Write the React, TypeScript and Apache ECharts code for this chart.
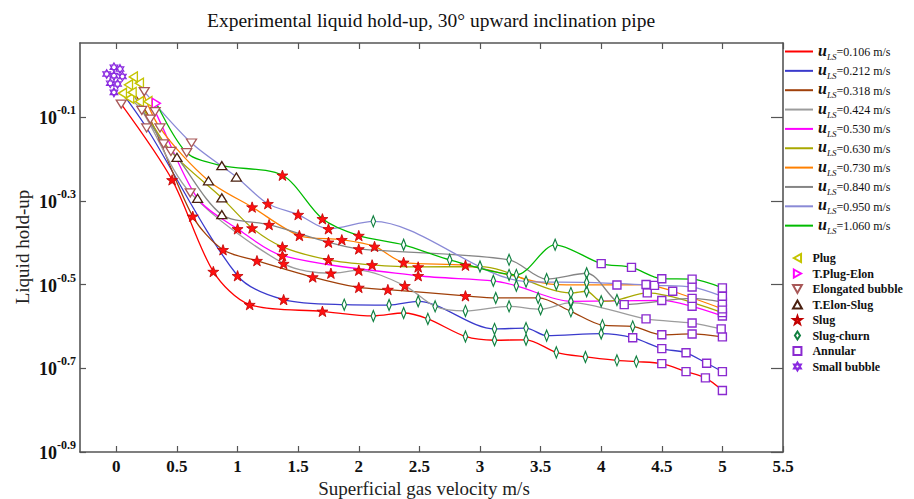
import React, { useEffect, useRef } from "react";
import * as echarts from "echarts";

const SERIF = '"Liberation Serif", "DejaVu Serif", serif';

// Superficial liquid velocities (m/s), one curve each
const liquidVelocity = ["0.106", "0.212", "0.318", "0.424", "0.530", "0.630", "0.730", "0.840", "0.950", "1.060"];

// Per curve: superficial gas velocity (m/s), log10 of liquid hold-up, observed flow regime
const ugs106 = [-0.02, 0.04, 0.46, 0.80, 1.10, 1.70, 2.12, 2.37, 2.57, 2.88, 3.12, 3.38, 3.63, 3.87, 4.13, 4.29, 4.50, 4.70, 4.86, 5.00];
const logHl106 = [-0.041, -0.069, -0.250, -0.469, -0.548, -0.564, -0.575, -0.568, -0.582, -0.624, -0.633, -0.632, -0.662, -0.673, -0.681, -0.684, -0.689, -0.708, -0.723, -0.753];
const regime106 = ["SB", "EB", "S", "S", "S", "S", "SC", "SC", "SC", "SC", "SC", "SC", "SC", "SC", "SC", "SC", "A", "A", "A", "A"];

const ugs212 = [-0.05, 0.05, 0.25, 1.00, 1.38, 1.88, 2.25, 2.49, 3.12, 3.38, 3.55, 4.00, 4.26, 4.50, 4.70, 4.87, 5.00];
const logHl212 = [-0.019, -0.043, -0.126, -0.479, -0.536, -0.548, -0.549, -0.540, -0.606, -0.604, -0.622, -0.617, -0.627, -0.653, -0.663, -0.688, -0.708];
const regime212 = ["SB", "P", "EB", "S", "S", "SC", "SC", "SC", "SC", "SC", "SC", "SC", "A", "A", "A", "A", "A"];

const ugs318 = [-0.08, 0.10, 0.28, 0.63, 0.88, 1.16, 1.62, 2.00, 2.24, 2.88, 3.13, 3.48, 3.75, 4.01, 4.26, 4.50, 4.75, 5.00];
const logHl318 = [0.003, -0.023, -0.105, -0.337, -0.417, -0.443, -0.482, -0.507, -0.512, -0.527, -0.532, -0.532, -0.564, -0.597, -0.600, -0.620, -0.618, -0.625];
const regime318 = ["SB", "P", "EB", "S", "S", "S", "S", "S", "S", "S", "SC", "SC", "SC", "SC", "SC", "A", "A", "A"];

const ugs424 = [0.01, 0.11, 0.21, 0.61, 1.38, 1.77, 2.00, 2.38, 2.63, 2.88, 3.24, 3.50, 3.75, 4.37, 4.75, 4.99];
const logHl424 = [-0.021, -0.055, -0.084, -0.281, -0.450, -0.473, -0.466, -0.503, -0.552, -0.563, -0.552, -0.559, -0.543, -0.582, -0.592, -0.606];
const regime424 = ["SB", "P", "EB", "EB", "S", "S", "S", "S", "SC", "SC", "SC", "SC", "SC", "A", "A", "A"];

const ugs530 = [0.26, 0.32, 0.67, 1.00, 1.37, 2.49, 3.11, 3.30, 3.75, 4.50, 4.75, 5.00];
const logHl530 = [-0.063, -0.087, -0.294, -0.367, -0.431, -0.479, -0.491, -0.503, -0.540, -0.538, -0.552, -0.575];
const regime530 = ["P", "EB", "TES", "S", "S", "S", "SC", "SC", "SC", "A", "A", "A"];

const ugs630 = [0.03, 0.19, 0.45, 0.87, 1.12, 1.37, 1.75, 2.11, 2.49, 3.00, 3.75, 3.88, 4.00, 4.13, 4.38, 5.00];
const logHl630 = [0.015, -0.063, -0.182, -0.293, -0.365, -0.410, -0.441, -0.453, -0.458, -0.457, -0.520, -0.516, -0.540, -0.537, -0.520, -0.567];
const regime630 = ["SB", "P", "EB", "TES", "S", "S", "S", "S", "S", "SC", "SC", "SC", "SC", "SC", "A", "A"];

const ugs730 = [0.05, 0.19, 0.36, 0.76, 1.12, 1.51, 1.86, 2.13, 2.37, 2.88, 3.24, 3.63, 4.13, 4.37, 4.59, 5.00];
const logHl730 = [-0.003, -0.019, -0.126, -0.252, -0.315, -0.383, -0.393, -0.409, -0.447, -0.454, -0.477, -0.500, -0.501, -0.500, -0.516, -0.558];
const regime730 = ["SB", "P", "EB", "TES", "S", "S", "S", "S", "S", "S", "SC", "SC", "A", "A", "A", "A"];

const ugs840 = [-0.02, 0.13, 0.39, 0.50, 0.87, 1.26, 1.75, 2.00, 3.24, 3.55, 3.88, 4.19, 4.75, 5.00];
const logHl840 = [-0.001, -0.041, -0.164, -0.196, -0.333, -0.357, -0.399, -0.415, -0.441, -0.487, -0.473, -0.548, -0.533, -0.542];
const regime840 = ["SB", "P", "EB", "TES", "TES", "S", "S", "S", "SC", "SC", "SC", "A", "A", "A"];

const ugs950 = [-0.02, 0.14, 0.23, 0.62, 0.99, 1.25, 1.50, 1.75, 2.12, 3.38, 3.88, 4.44, 4.75, 5.00];
const logHl950 = [0.019, -0.004, -0.039, -0.162, -0.243, -0.307, -0.333, -0.367, -0.349, -0.493, -0.495, -0.502, -0.506, -0.528];
const regime950 = ["SB", "P", "EB", "EB", "TES", "S", "S", "S", "SC", "SC", "SC", "A", "A", "A"];

const ugs1060 = [0.33, 0.58, 0.87, 1.37, 1.70, 2.00, 2.37, 2.75, 3.30, 3.62, 4.00, 4.25, 4.50, 4.75, 5.00];
const logHl1060 = [-0.067, -0.185, -0.216, -0.239, -0.343, -0.383, -0.405, -0.441, -0.477, -0.405, -0.450, -0.459, -0.486, -0.487, -0.508];
const regime1060 = ["TPE", "EB", "TES", "S", "S", "S", "SC", "SC", "SC", "SC", "A", "A", "A", "A", "A"];

// Flow regimes (codes used above) and their legend names
const regimeCodes = ["P", "TPE", "EB", "TES", "S", "SC", "A", "SB"];
const regimeNames = ["Plug", "T.Plug-Elon", "Elongated bubble", "T.Elon-Slug", "Slug", "Slug-churn", "Annular", "Small bubble"];

// Axis ticks (y is the exponent of 10)
const xTicks = [0, 0.5, 1, 1.5, 2, 2.5, 3, 3.5, 4, 4.5, 5, 5.5];
const yTicks = [-0.9, -0.7, -0.5, -0.3, -0.1];

const curves = [
  { ugs: ugs106, logHl: logHl106, regime: regime106 },
  { ugs: ugs212, logHl: logHl212, regime: regime212 },
  { ugs: ugs318, logHl: logHl318, regime: regime318 },
  { ugs: ugs424, logHl: logHl424, regime: regime424 },
  { ugs: ugs530, logHl: logHl530, regime: regime530 },
  { ugs: ugs630, logHl: logHl630, regime: regime630 },
  { ugs: ugs730, logHl: logHl730, regime: regime730 },
  { ugs: ugs840, logHl: logHl840, regime: regime840 },
  { ugs: ugs950, logHl: logHl950, regime: regime950 },
  { ugs: ugs1060, logHl: logHl1060, regime: regime1060 },
];

const lineColors = ["#ff0000", "#3a3acc", "#a0400a", "#9c9c9c", "#ff00ff", "#a8a800", "#ff8000", "#858585", "#8a8ad6", "#00bb00"];

const STAR = "path://M10,0L12.35,6.76L19.51,6.91L13.8,11.24L15.88,18.09L10,14L4.12,18.09L6.2,11.24L0.49,6.91L7.65,6.76Z";
const HEXAGRAM = "path://M10,0L12.89,5L18.66,5L15.77,10L18.66,15L12.89,15L10,20L7.11,15L1.34,15L4.23,10L1.34,5L7.11,5ZM12.89,5L15.77,10L12.89,15L7.11,15L4.23,10L7.11,5Z";

const markerStyles: Record<string, any> = {
  P: { symbol: "path://M0,5L9,0L9,10Z", size: [9, 10], fill: "#ffffff", stroke: "#c4c400", width: 1.4 },
  TPE: { symbol: "path://M0,0L9,5L0,10Z", size: [9, 10], fill: "#ffffff", stroke: "#ff00ff", width: 1.4 },
  EB: { symbol: "path://M0,0L10,0L5,9Z", size: [10, 9], fill: "#ffffff", stroke: "#a85858", width: 1.3 },
  TES: { symbol: "path://M5,0L10,9L0,9Z", size: [10, 9], fill: "#ffffff", stroke: "#4a2010", width: 1.3 },
  S: { symbol: STAR, size: 11, fill: "#ff1010", stroke: "#c00000", width: 0.8 },
  SC: { symbol: "path://M3.5,0L7,5.5L3.5,11L0,5.5Z", size: [7, 11], fill: "#ffffff", stroke: "#108040", width: 1.3 },
  A: { symbol: "path://M0,0L8,0L8,8L0,8Z", size: 8, fill: "#ffffff", stroke: "#8a2ad0", width: 1.4 },
  SB: { symbol: HEXAGRAM, size: 9, fill: "#ffffff", stroke: "#8a2ae0", width: 1.1 },
};

function buildOption(): any {
  const lineSeries = curves.map((c, k) => ({
    type: "line",
    name: liquidVelocity[k],
    smooth: 0.3,
    symbol: "none",
    showSymbol: false,
    silent: true,
    z: 2,
    data: c.ugs
      .map((x, i) => (c.regime[i] === "SB" ? null : [x, c.logHl[i]]))
      .filter((p) => p !== null),
    lineStyle: { color: lineColors[k], width: 1.3 },
    itemStyle: { color: lineColors[k] },
  }));

  const scatterSeries = regimeCodes.map((code, r) => {
    const m = markerStyles[code];
    const data: number[][] = [];
    curves.forEach((c) => {
      c.ugs.forEach((x, i) => {
        if (c.regime[i] === code) data.push([x, c.logHl[i]]);
      });
    });
    return {
      type: "scatter",
      name: regimeNames[r],
      data,
      symbol: m.symbol,
      symbolSize: m.size,
      symbolKeepAspect: true,
      z: 3,
      silent: true,
      itemStyle: { color: m.fill, borderColor: m.stroke, borderWidth: m.width, opacity: 1 },
    };
  });

  const axisLine = { onZero: false, lineStyle: { color: "#555", width: 1.6 } };

  return {
    animation: false,
    backgroundColor: "#ffffff",
    title: {
      text: "Experimental liquid hold-up, 30° upward inclination pipe",
      left: 202,
      top: 5,
      textStyle: { fontFamily: SERIF, fontWeight: "normal", fontSize: 19.5, color: "#111" },
    },
    grid: { left: 80, top: 43, width: 703, height: 409 },
    xAxis: [
      {
        type: "value",
        min: -0.3,
        max: 5.5,
        position: "bottom",
        axisLine,
        axisTick: { inside: true, length: 6, customValues: xTicks, lineStyle: { color: "#555", width: 1.2 } },
        axisLabel: {
          customValues: xTicks,
          formatter: (v: number) => String(v),
          fontFamily: SERIF,
          fontWeight: "bold",
          fontSize: 17,
          color: "#111",
          margin: 6,
        },
        splitLine: { show: false },
      },
      {
        type: "value",
        min: -0.3,
        max: 5.5,
        position: "top",
        axisLine,
        axisTick: { inside: true, length: 6, customValues: xTicks, lineStyle: { color: "#555", width: 1.2 } },
        axisLabel: { show: false },
        splitLine: { show: false },
      },
    ],
    yAxis: [
      {
        type: "value",
        min: -0.9,
        max: 0.077,
        position: "left",
        axisLine,
        axisTick: { inside: true, length: 6, customValues: yTicks, lineStyle: { color: "#555", width: 1.2 } },
        axisLabel: {
          customValues: yTicks,
          margin: 4,
          formatter: (v: number) => `{b|10}{e|${v.toFixed(1)}}`,
          rich: {
            b: { fontFamily: SERIF, fontWeight: "bold", fontSize: 18, color: "#111", verticalAlign: "bottom", padding: [0, 0, 3, 0] },
            e: { fontFamily: SERIF, fontWeight: "bold", fontSize: 12, color: "#111", verticalAlign: "bottom", padding: [0, 0, 14, 0] },
          },
        },
        splitLine: { show: false },
      },
      {
        type: "value",
        min: -0.9,
        max: 0.077,
        position: "right",
        axisLine,
        axisTick: { inside: true, length: 12, customValues: yTicks, lineStyle: { color: "#555", width: 1.2 } },
        axisLabel: { show: false },
        splitLine: { show: false },
      },
    ],
    legend: [
      {
        data: liquidVelocity,
        orient: "vertical",
        left: 785,
        top: 42,
        padding: 0,
        icon: "rect",
        itemWidth: 28,
        itemHeight: 2,
        itemGap: 0.35,
        selectedMode: false,
        formatter: (name: string) => `{u|u}{s|LS}{t|=${name} m/s}`,
        textStyle: {
          rich: {
            u: { fontFamily: SERIF, fontStyle: "italic", fontWeight: "bold", fontSize: 16, color: "#111", verticalAlign: "bottom", padding: [0, 0, 3, 0] },
            s: { fontFamily: SERIF, fontStyle: "italic", fontSize: 9, color: "#111", verticalAlign: "bottom" },
            t: { fontFamily: SERIF, fontSize: 12, color: "#111", verticalAlign: "bottom", padding: [0, 0, 3, 0] },
          },
        },
      },
      {
        data: regimeNames,
        orient: "vertical",
        left: 792,
        top: 252,
        padding: 0,
        itemWidth: 20,
        itemHeight: 8,
        itemGap: 3.5,
        symbolKeepAspect: true,
        selectedMode: false,
        textStyle: { fontFamily: SERIF, fontWeight: "bold", fontSize: 12, color: "#111" },
      },
    ],
    graphic: [
      {
        type: "text",
        x: 22,
        y: 247,
        rotation: Math.PI / 2,
        style: {
          text: "Liquid hold-up",
          font: `19px ${SERIF}`,
          fill: "#222",
          align: "center",
          verticalAlign: "middle",
        },
      },
      {
        type: "text",
        x: 424,
        y: 488,
        style: {
          text: "Superficial gas velocity m/s",
          font: `19px ${SERIF}`,
          fill: "#222",
          align: "center",
          verticalAlign: "middle",
        },
      },
    ],
    series: [...lineSeries, ...scatterSeries],
  };
}

export default function App() {
  const ref = useRef<HTMLDivElement>(null);
  useEffect(() => {
    document.body.style.margin = "0";
    const chart = echarts.init(ref.current!, null, { renderer: "svg" });
    chart.setOption(buildOption());
    return () => chart.dispose();
  }, []);
  return <div ref={ref} style={{ width: 914, height: 499, background: "#fff" }} />;
}
